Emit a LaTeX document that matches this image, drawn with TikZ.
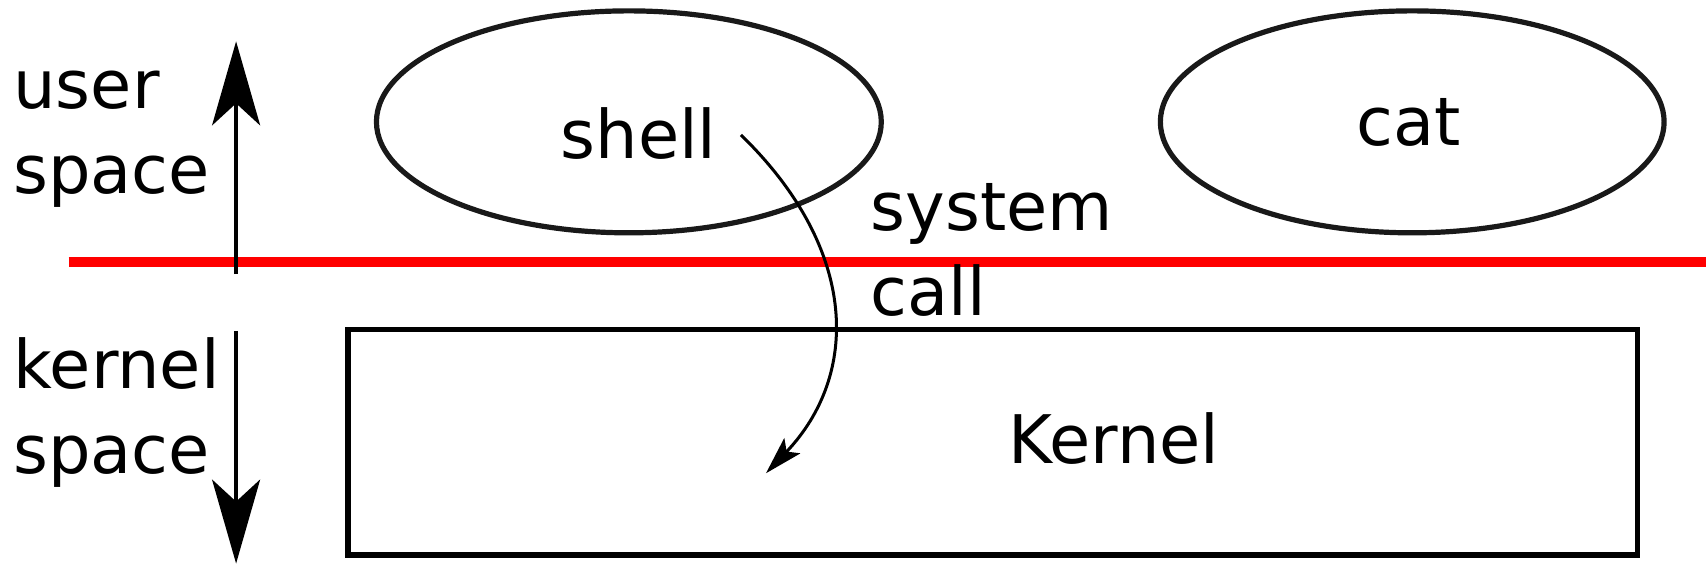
\documentclass[tikz,border=0pt]{standalone}
\usepackage{fontspec}
\setmainfont{DejaVu Sans}
\usetikzlibrary{arrows.meta}
\begin{document}
\begin{tikzpicture}[x=0.544pt,y=-0.544pt,
  lbl/.style={font=\fontsize{33.5}{44}\selectfont, inner sep=0pt},
  bigarrow/.style={line width=2pt, -{Stealth[length=42pt,width=24pt,inset=11pt]}}
]
\useasboundingbox (0,0) rectangle (1568,528.5);
% processes
\draw[draw=black!90, line width=2.6pt] (578,112) ellipse [x radius=232, y radius=102];
\draw[draw=black!90, line width=2.6pt] (1298,112) ellipse [x radius=231.5, y radius=102];
\node[lbl, anchor=base] (shell) at (587,146) {shell};
\node[lbl, anchor=base] (cat) at (1295,134) {cat};
% kernel
\draw[line width=2.8pt] (320,303) rectangle (1505,510);
\node[lbl, anchor=base] (kernel) at (1024,426) {Kernel};
% boundary
\draw[red, line width=5pt] (63,241) -- (1568,241);
% labels
\node[lbl, anchor=base west] (us) at (12,100) {user};
\node[lbl, anchor=base west] (us2) at (12,178) {space};
\node[lbl, anchor=base west] (ks) at (12,357) {kernel};
\node[lbl, anchor=base west] (ks2) at (12,435) {space};
\node[lbl, anchor=base west] (sc) at (800,212) {system};
\node[lbl, anchor=base west] (sc2) at (800,290) {call};
% arrows
\coordinate (ua0) at (217,252);
\coordinate (ua1) at (217,38);
\coordinate (da0) at (217,304);
\coordinate (da1) at (217,518);
\draw[bigarrow] (ua0) -- (ua1);
\draw[bigarrow] (da0) -- (da1);
\coordinate (c0) at (681,124);
\coordinate (c1) at (704,435);
\draw[line width=1.5pt, -{Stealth[length=19pt,width=11pt,inset=4pt]}] (c0) .. controls (790,230) and (790,345) .. (c1);
\end{tikzpicture}
\end{document}
